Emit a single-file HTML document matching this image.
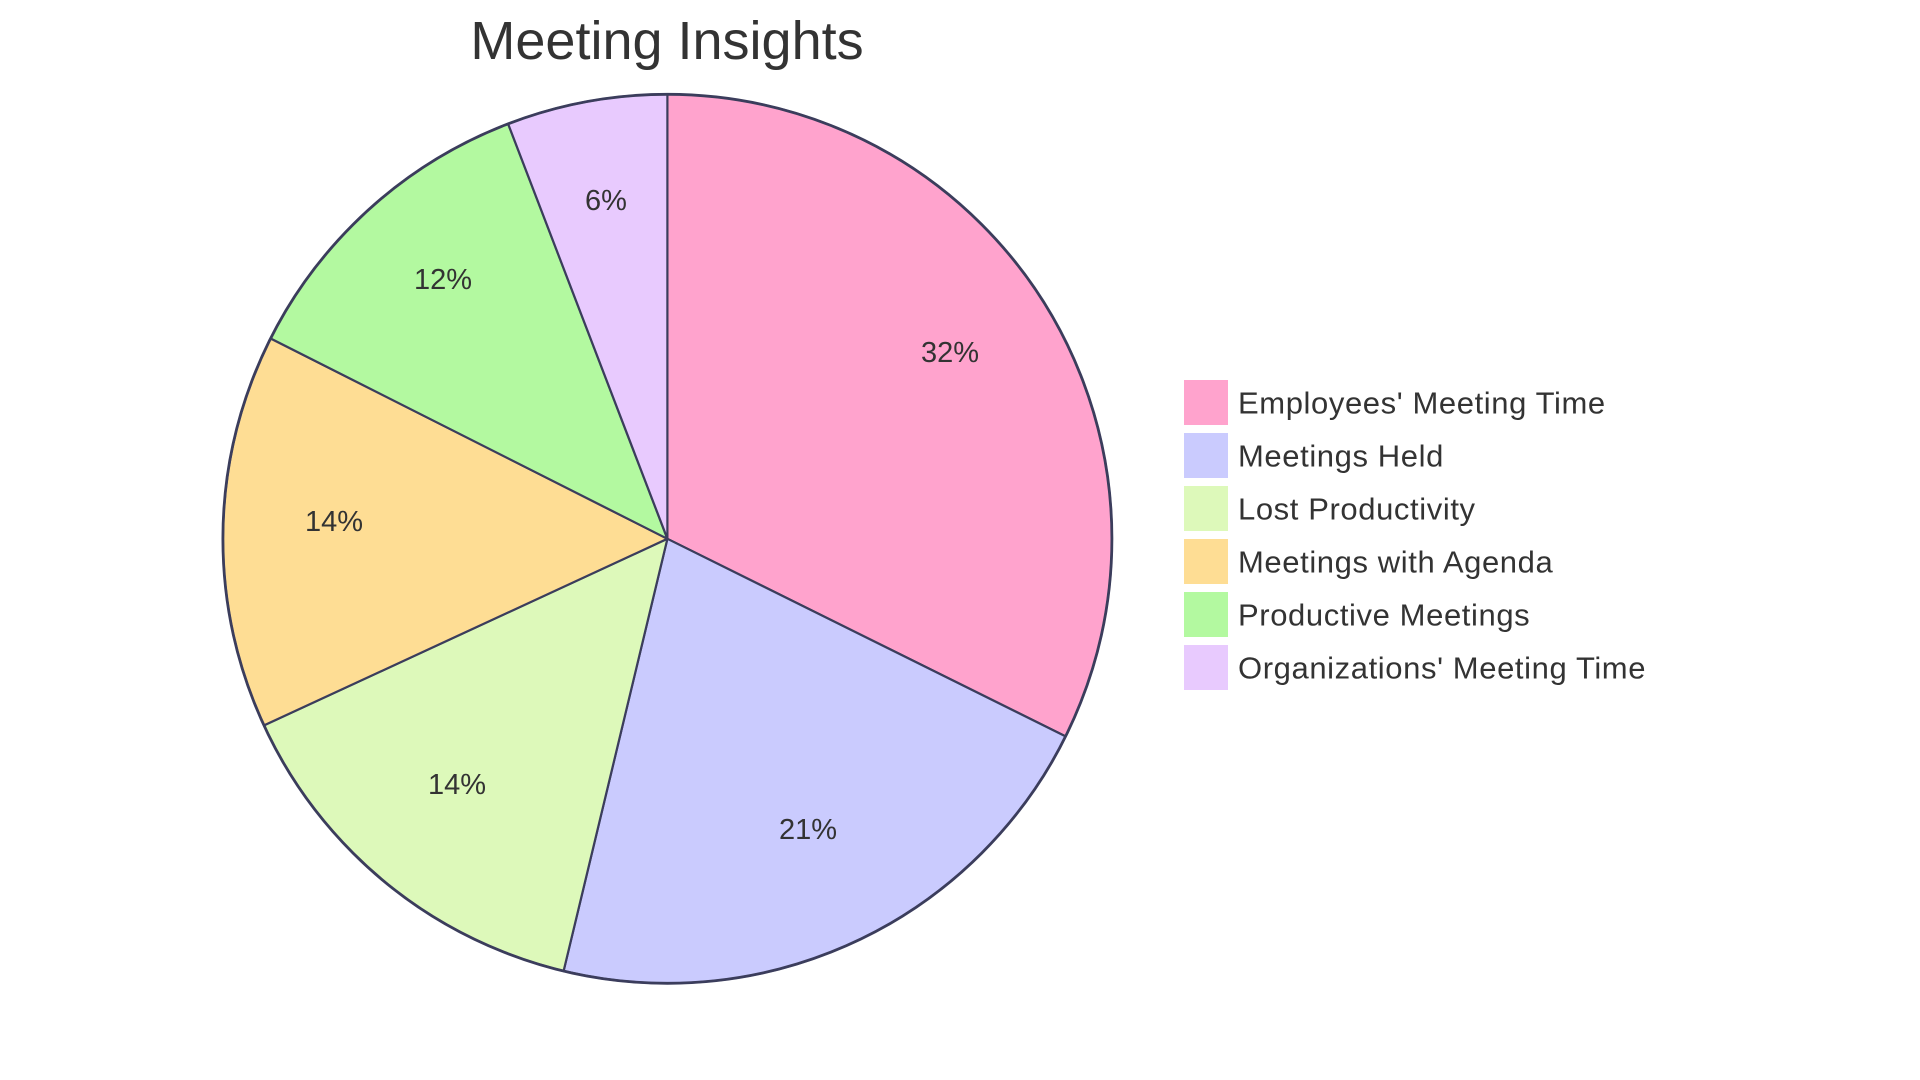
<!DOCTYPE html>
<html><head><meta charset="utf-8"><style>
html,body{margin:0;padding:0;background:#fff;}
svg{display:block;font-family:"Liberation Sans",sans-serif;}
</style></head><body>
<svg width="1920" height="1080" viewBox="0 0 1920 1080" xmlns="http://www.w3.org/2000/svg">
<text x="667" y="59" font-size="54" fill="#333" text-anchor="middle">Meeting Insights</text>
<g stroke="#3b3d5c" stroke-width="2.2" stroke-linejoin="round">
<path d="M667.4,538.8 L667.4,94.3 A444.5,444.5 0 0 1 1065.6,736.4 Z" fill="#FFA3CD"/>
<path d="M667.4,538.8 L1065.6,736.4 A444.5,444.5 0 0 1 563.6,971.0 Z" fill="#CACBFE"/>
<path d="M667.4,538.8 L563.6,971.0 A444.5,444.5 0 0 1 264.0,725.4 Z" fill="#DDF9BA"/>
<path d="M667.4,538.8 L264.0,725.4 A444.5,444.5 0 0 1 270.7,338.5 Z" fill="#FEDD94"/>
<path d="M667.4,538.8 L270.7,338.5 A444.5,444.5 0 0 1 508.1,123.8 Z" fill="#B3F9A0"/>
<path d="M667.4,538.8 L508.1,123.8 A444.5,444.5 0 0 1 667.4,94.3 Z" fill="#E8CAFE"/>
<circle cx="667.4" cy="538.8" r="444.5" fill="none" stroke-width="2.8"/>
</g>
<g font-size="29" fill="#333" text-anchor="middle" dominant-baseline="central">
<text x="950" y="353">32%</text>
<text x="808" y="830">21%</text>
<text x="457" y="785">14%</text>
<text x="334" y="522">14%</text>
<text x="443" y="280">12%</text>
<text x="606" y="201">6%</text>
</g>
<g font-size="31" fill="#333" dominant-baseline="central" letter-spacing="0.6">
<rect x="1184" y="380" width="44" height="45" fill="#FFA3CD"/><text x="1238" y="403">Employees' Meeting Time</text>
<rect x="1184" y="433" width="44" height="45" fill="#CACBFE"/><text x="1238" y="456">Meetings Held</text>
<rect x="1184" y="486" width="44" height="45" fill="#DDF9BA"/><text x="1238" y="509">Lost Productivity</text>
<rect x="1184" y="539" width="44" height="45" fill="#FEDD94"/><text x="1238" y="562">Meetings with Agenda</text>
<rect x="1184" y="592" width="44" height="45" fill="#B3F9A0"/><text x="1238" y="615">Productive Meetings</text>
<rect x="1184" y="645" width="44" height="45" fill="#E8CAFE"/><text x="1238" y="668">Organizations' Meeting Time</text>
</g>
</svg>
</body></html>
